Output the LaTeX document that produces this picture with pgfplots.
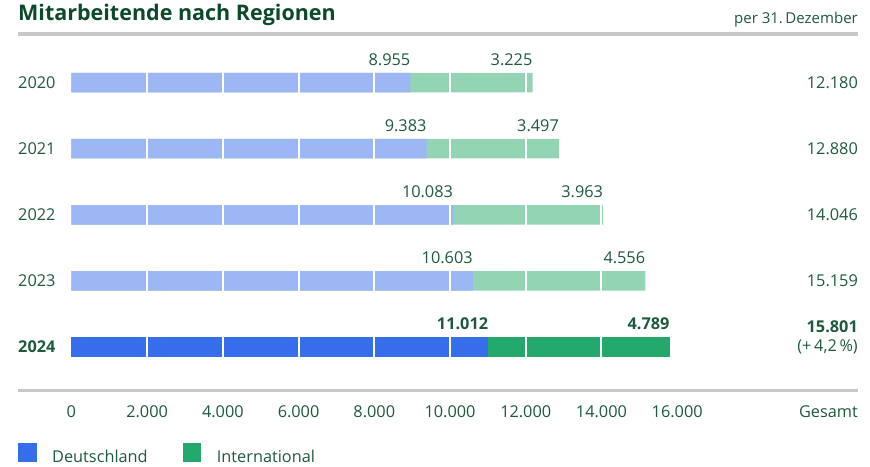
\documentclass[border=0pt]{standalone}
\usepackage{pgfplots}
\pgfplotsset{compat=1.18}
\usepackage{pgfplotstable}
\usepackage{fontspec}
\setmainfont{Open Sans}
\definecolor{lblue}{HTML}{9DB6F4}
\definecolor{lgreen}{HTML}{93D4B4}
\definecolor{dblue}{HTML}{366DEB}
\definecolor{dgreen}{HTML}{23A96B}
\definecolor{txt}{HTML}{1E5A3C}
\definecolor{ttl}{HTML}{0C4A2A}
\definecolor{rulegray}{HTML}{C8C8C8}
\newcommand\lab{\fontsize{16.3bp}{19bp}\selectfont}

% previous years (light colours)
\pgfplotstableread{
y de intl total
4 8955 3225 12180
3 9383 3497 12880
2 10083 3963 14046
1 10603 4556 15159
}\prevyears
% current year (dark colours)
\pgfplotstableread{
y de intl total
0 11012 4789 15801
}\curyear

\begin{document}
\begin{tikzpicture}
\pgfkeys{/pgf/number format/.cd, 1000 sep={.}, use comma, assume math mode=true}
\begin{axis}[
  scale only axis, width=840bp, height=356.8bp,
  xmin=-1410.5, xmax=20776.5, ymin=-0.658, ymax=4.74,
  clip=false,
  axis line style={draw=none},
  major tick length=0pt,
  xtick={0,2000,...,16000},
  scaled x ticks=false,
  xticklabel style={anchor=base, inner sep=0pt, yshift=-27bp, font=\lab, text=txt},
  ytick={0,1,2,3,4},
  yticklabels={\textbf{2024},2023,2022,2021,2020},
  yticklabel style={anchor=west, inner sep=0pt, font=\lab, text=txt},
  xbar, bar width=19.5bp, bar shift=0pt,
  vlab/.style={
    nodes near coords={\pgfmathprintnumber{\pgfplotspointmeta}},
    every node near coord/.append style={anchor=base east, inner sep=0pt, yshift=17.5bp, font=\lab, text=txt}},
  reverse legend,
  legend columns=2,
  legend style={at={(axis description cs:0,-0.2144)}, anchor=south west, draw=none, fill=none,
    inner sep=0pt, outer sep=0pt, font=\lab, text=txt,
    nodes={inner sep=0pt, outer sep=0pt},
    /tikz/every odd column/.append style={column sep=15.5bp},
    /tikz/every even column/.append style={column sep=35bp}},
]
\addplot[xbar, fill=lgreen, draw=none, forget plot, point meta=explicit, vlab]
  table[x=total, y=y, meta=intl] {\prevyears};
\addplot[xbar, fill=lblue, draw=none, forget plot, point meta=x, vlab]
  table[x=de, y=y] {\prevyears};
\addplot[xbar, fill=dgreen, draw=none, point meta=explicit, vlab,
  every node near coord/.append style={font=\lab\bfseries},
  legend image code/.code={\fill[dgreen] (0bp,-4bp) rectangle (18.7bp,15bp);}]
  table[x=total, y=y, meta=intl] {\curyear};
\addlegendentry{\raisebox{3.5bp}{International}}
\addplot[xbar, fill=dblue, draw=none, point meta=x, vlab,
  every node near coord/.append style={font=\lab\bfseries},
  legend image code/.code={\fill[dblue] (0bp,-4bp) rectangle (18.7bp,15bp);}]
  table[x=de, y=y] {\curyear};
\addlegendentry{\raisebox{3.5bp}{Deutschland}}

% white separators every 2000 across the bars
\pgfplotsinvokeforeach{2000,4000,6000,8000,10000,12000,14000,16000}{
  \draw[white, line width=2bp]
    (axis cs:#1,-0.16) -- (axis cs:#1,0.16)
    (axis cs:#1,0.84) -- (axis cs:#1,1.16)
    (axis cs:#1,1.84) -- (axis cs:#1,2.16)
    (axis cs:#1,2.84) -- (axis cs:#1,3.16)
    (axis cs:#1,3.84) -- (axis cs:#1,4.16);
}
% rules
\draw[rulegray, line width=4bp] (rel axis cs:0,1) -- (rel axis cs:1,1);
\draw[rulegray, line width=3.6bp] (rel axis cs:0,0) -- (rel axis cs:1,0);

% totals
\node[anchor=east, inner sep=0pt, font=\lab, text=txt] at (axis cs:20776.5,4) {12.180};
\node[anchor=east, inner sep=0pt, font=\lab, text=txt] at (axis cs:20776.5,3) {12.880};
\node[anchor=east, inner sep=0pt, font=\lab, text=txt] at (axis cs:20776.5,2) {14.046};
\node[anchor=east, inner sep=0pt, font=\lab, text=txt] at (axis cs:20776.5,1) {15.159};
\node[anchor=east, inner sep=0pt, font=\lab, text=txt] at (axis cs:20776.5,0) {(+\,4,2\,\%)};
\node[anchor=east, inner sep=0pt, yshift=20bp, font=\lab\bfseries, text=txt] at (axis cs:20776.5,0) {15.801};
\node[anchor=base east, inner sep=0pt, yshift=-27bp, font=\lab, text=txt] at (rel axis cs:1,0) {Gesamt};

% title
\node[anchor=base west, inner sep=0pt, yshift=12.7bp, font=\fontsize{21.5bp}{24bp}\selectfont\bfseries, text=ttl]
  at (rel axis cs:0,1) {Mitarbeitende nach Regionen};
\node[anchor=base east, inner sep=0pt, yshift=10.4bp, font=\fontsize{15bp}{18bp}\selectfont, text=txt]
  at (rel axis cs:1,1) {per 31.\,Dezember};

\coordinate (A) at (rel axis cs:0,0);
\end{axis}
\pgfresetboundingbox
\path ([shift={(-18bp,-76.5bp)}]A) rectangle ([shift={(852bp,390.5bp)}]A);
\end{tikzpicture}
\end{document}
